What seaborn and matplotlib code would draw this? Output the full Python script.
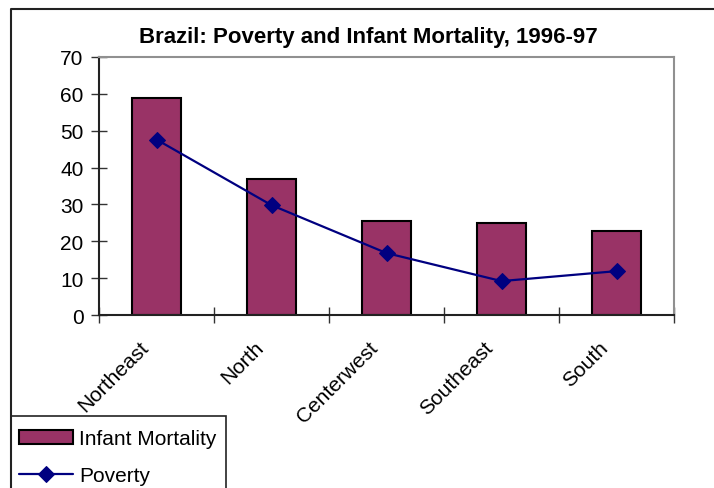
"""
Brazil: poverty and infant mortality by region, 1996-97
Excel-style bar + line combo chart
"""

import matplotlib
matplotlib.use('Agg')
import matplotlib.pyplot as plt
import matplotlib.transforms as mtransforms
from matplotlib.lines import Line2D
from matplotlib.patches import Rectangle
import seaborn as sns

# Data
regions = ['Northeast', 'North', 'Centerwest', 'Southeast', 'South']
infant_mortality = [59.0, 37.0, 25.5, 25.0, 22.8]
poverty = [47.6, 29.8, 16.8, 9.2, 11.9]
y_ticks = [0, 10, 20, 30, 40, 50, 60, 70]

BAR_COLOR = '#993366'
LINE_COLOR = '#000080'

sns.set_style('white')
plt.rcParams['font.family'] = ['Liberation Sans', 'DejaVu Sans']
plt.rcParams['text.color'] = 'black'
plt.rcParams['xtick.labelcolor'] = 'black'
plt.rcParams['ytick.labelcolor'] = 'black'

W, H = 714, 489
fig = plt.figure(figsize=(W / 100, H / 100), dpi=100)

# plot area in pixels: left 99, right 674, top 58, bottom 316
ax = fig.add_axes([99 / W, 1 - 316 / H, (674 - 99) / W, (316 - 58) / H])

sns.barplot(x=regions, y=infant_mortality, color=BAR_COLOR, edgecolor='black',
            linewidth=1.5, width=0.42, saturation=1, ax=ax, label='Infant Mortality')
sns.lineplot(x=regions, y=poverty, color=LINE_COLOR, marker='D', markersize=8,
             markeredgecolor=LINE_COLOR, linewidth=1.6, sort=False, ax=ax,
             label='Poverty')

ax.set_xlim(-0.5, len(regions) - 0.5)
ax.set_ylim(0, 70)
ax.set_yticks(y_ticks)
ax.set_yticklabels([str(v) for v in y_ticks], fontsize=15)

# category ticks sit on the boundaries, labels at bar centres
ax.set_xticks([i - 0.5 for i in range(len(regions) + 1)])
ax.set_xticklabels([])
ax.set_xticks(range(len(regions)), minor=True)
ax.set_xticklabels(regions, minor=True, rotation=45, ha='right', va='top',
                   rotation_mode='anchor', fontsize=15)
ax.tick_params(axis='x', which='minor', length=0, pad=16, labelcolor='black')
ax.tick_params(axis='x', which='major', bottom=True, direction='inout', length=12,
               width=1, color='#333333')
ax.tick_params(axis='y', left=True, direction='inout', length=12, width=1,
               color='#333333', pad=5, labelcolor='black')
# Excel sets the rotated labels a little left of the bar centre
shift = mtransforms.ScaledTranslation(-18 / 100, 0, fig.dpi_scale_trans)
for lbl in ax.get_xticklabels(minor=True):
    lbl.set_transform(lbl.get_transform() + shift)
ax.set_xlabel('')
ax.set_ylabel('')

for side in ['left', 'bottom']:
    ax.spines[side].set_color('#222222')
    ax.spines[side].set_linewidth(1.5)
for side in ['top', 'right']:
    ax.spines[side].set_color('#909090')
    ax.spines[side].set_linewidth(1.5)
ax.grid(False)

fig.text(368 / W, 1 - 38 / H, 'Brazil: Poverty and Infant Mortality, 1996-97',
         ha='center', va='center', fontsize=16, fontweight='bold', color='black')

# chart border (only top and left visible in the crop)
fig.add_artist(Line2D([11.5 / W, 11.5 / W, 1], [0, 1 - 10 / H, 1 - 10 / H],
                      transform=fig.transFigure, color='#222222', linewidth=1.5))

ax.get_legend().remove()
handles, labels = ax.get_legend_handles_labels()
order = [labels.index('Infant Mortality'), labels.index('Poverty')]
leg = fig.legend([handles[i] for i in order], [labels[i] for i in order],
                 loc='upper left', bbox_to_anchor=(11.5 / W, 1 - 423 / H),
                 bbox_transform=fig.transFigure, fontsize=15, frameon=False,
                 borderaxespad=0, borderpad=0.35,
                 handlelength=2.6, handleheight=0.65, handletextpad=0.3,
                 labelspacing=0.85, labelcolor='black')
# legend box, runs off the bottom edge like in the source image
fig.add_artist(Rectangle((11.5 / W, -0.05), (226 - 11.5) / W, 0.05 + (489 - 417) / H,
                         transform=fig.transFigure, fill=False,
                         edgecolor='#222222', linewidth=1.2))

fig.savefig('out.png', dpi=100)
